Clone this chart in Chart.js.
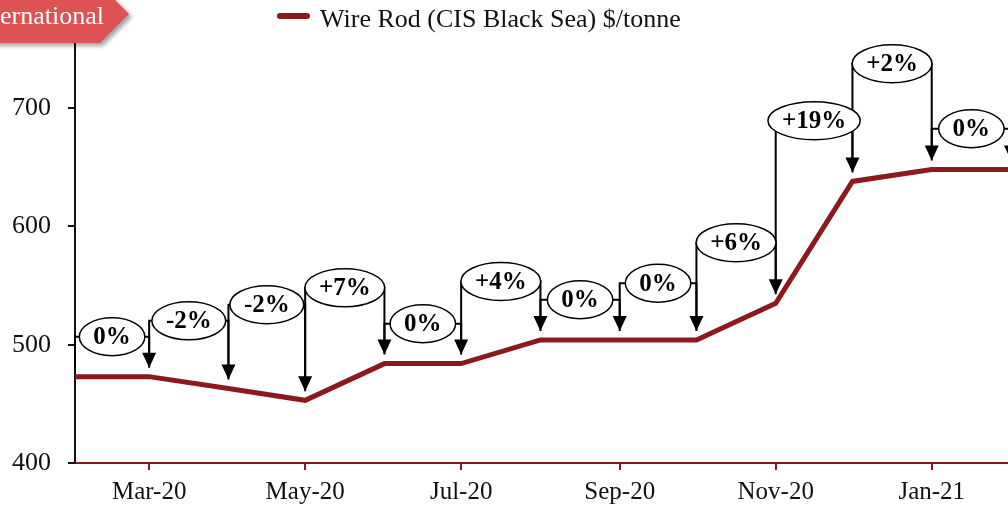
<!DOCTYPE html>
<html>
<head>
<meta charset="utf-8">
<title>Wire Rod (CIS Black Sea) $/tonne</title>
<script src="https://cdn.jsdelivr.net/npm/chart.js@4.4.1/dist/chart.umd.min.js"></script>
<style>
    html, body { margin: 0; padding: 0; overflow: hidden; background: #fff; }
    #wrap { width: 1040px; height: 506px; }
</style>
</head>
<body>
<div id="wrap"><canvas id="canvas_wire_rod" width="1040" height="506"></canvas></div>
<script>
const months = ['Feb-20', 'Mar-20', 'Apr-20', 'May-20', 'Jun-20', 'Jul-20', 'Aug-20',
    'Sep-20', 'Oct-20', 'Nov-20', 'Dec-20', 'Jan-21', 'Feb-21'];
const wire_rod = [473, 473, 463, 453, 484, 484, 504, 504, 504, 535, 638, 648, 648];
const changes = ['0%', '-2%', '-2%', '+7%', '0%', '+4%', '0%', '0%', '+6%', '+19%', '+2%', '0%'];
// height of each change bubble, in $/tonne
const bubble_levels = [506.7, 520.2, 533.8, 548.1, 517.7, 553.5, 538, 551.9, 586.2, 689.3, 737.5, 682.5];
const x_tick_months = ['Mar-20', 'May-20', 'Jul-20', 'Sep-20', 'Nov-20', 'Jan-21'];
const y_ticks = [400, 500, 600, 700];

const month_names = ['Jan', 'Feb', 'Mar', 'Apr', 'May', 'Jun', 'Jul', 'Aug', 'Sep', 'Oct', 'Nov', 'Dec'];
function month_day(label) {
    let parts = label.split('-');
    let t = Date.UTC(2000 + parseInt(parts[1]), month_names.indexOf(parts[0]), 1);
    return (t - Date.UTC(2020, 1, 1)) / 86400000;
}

const couleur_ligne = '#8B1A1F';
const serif = '"Liberation Serif", "DejaVu Serif", serif';

const banner_plugin = {
    id: 'banner',
    afterDraw(chart) {
        const ctx = chart.ctx;
        ctx.save();
        ctx.shadowColor = 'rgba(0,0,0,0.35)';
        ctx.shadowOffsetX = 3;
        ctx.shadowOffsetY = 3;
        ctx.shadowBlur = 4;
        ctx.beginPath();
        ctx.moveTo(-10, -15);
        ctx.lineTo(100, -15);
        ctx.lineTo(129, 14);
        ctx.lineTo(100, 43);
        ctx.lineTo(-10, 43);
        ctx.closePath();
        ctx.fillStyle = '#DD5353';
        ctx.fill();
        ctx.restore();
        ctx.save();
        ctx.fillStyle = '#fff';
        ctx.font = '26px ' + serif;
        ctx.textAlign = 'right';
        ctx.textBaseline = 'alphabetic';
        ctx.fillText('International', 104, 24);

        // legend
        ctx.strokeStyle = couleur_ligne;
        ctx.lineWidth = 6;
        ctx.lineCap = 'round';
        ctx.beginPath();
        ctx.moveTo(280, 16);
        ctx.lineTo(307, 16);
        ctx.stroke();
        ctx.fillStyle = '#111';
        ctx.textAlign = 'left';
        ctx.fillText(chart.data.datasets[0].label, 320, 27);
        ctx.restore();
    }
};

const bubbles_plugin = {
    id: 'bubbles',
    afterDatasetsDraw(chart) {
        const ctx = chart.ctx;
        const xs = chart.scales.x, ys = chart.scales.y;
        let items = [];
        ctx.save();
        ctx.strokeStyle = '#000';
        ctx.fillStyle = '#000';
        ctx.lineWidth = 2;
        for (let i = 0; i < changes.length; i++) {
            let x0 = xs.getPixelForValue(month_day(months[i]));
            let x1 = xs.getPixelForValue(month_day(months[i + 1]));
            let yb = ys.getPixelForValue(bubble_levels[i]);
            let y0 = ys.getPixelForValue(wire_rod[i]) - 9;
            let y1 = ys.getPixelForValue(wire_rod[i + 1]) - 9;
            ctx.beginPath();
            ctx.moveTo(x0, y0);
            ctx.lineTo(x0, yb);
            ctx.lineTo(x1, yb);
            ctx.lineTo(x1, y1 - 12);
            ctx.stroke();
            ctx.beginPath();
            ctx.moveTo(x1, y1);
            ctx.lineTo(x1 - 7, y1 - 15);
            ctx.lineTo(x1 + 7, y1 - 15);
            ctx.closePath();
            ctx.fill();
            items.push({ x: (x0 + x1) / 2, y: yb, text: changes[i] });
        }
        ctx.font = 'bold 25px ' + serif;
        ctx.textAlign = 'center';
        ctx.textBaseline = 'middle';
        ctx.lineWidth = 1.5;
        items.forEach(function (it) {
            let w = ctx.measureText(it.text).width;
            ctx.beginPath();
            ctx.ellipse(it.x, it.y, w / 2 + 14, 19, 0, 0, Math.PI * 2);
            ctx.fillStyle = '#fff';
            ctx.fill();
            ctx.stroke();
            ctx.fillStyle = '#000';
            ctx.fillText(it.text, it.x, it.y + 1);
        });
        ctx.restore();
    }
};

let chart_datas = {
    datasets: [
        {
            label: 'Wire Rod (CIS Black Sea) $/tonne',
            data: wire_rod.map(function (v, i) { return { x: month_day(months[i]), y: v }; }),
            borderColor: couleur_ligne,
            borderWidth: 5,
            pointRadius: 0,
            tension: 0,
            fill: false
        }
    ]
};

let options = {
    responsive: false,
    animation: false,
    devicePixelRatio: 1,
    layout: {
        padding: { left: 0, right: 29, top: 43, bottom: 0 }
    },
    plugins: {
        legend: { display: false },
        tooltip: { enabled: false }
    },
    scales: {
        x: {
            type: 'linear',
            min: 0,
            max: month_day('Feb-21'),
            afterBuildTicks: function (scale) {
                scale.ticks = x_tick_months.map(function (m) { return { value: month_day(m) }; });
            },
            afterFit: function (scale) { scale.height = 43; },
            ticks: {
                autoSkip: false,
                maxRotation: 0,
                padding: 7,
                color: '#111',
                font: { family: serif, size: 25 },
                callback: function (value, index) { return x_tick_months[index]; }
            },
            grid: {
                drawOnChartArea: false,
                tickLength: 7,
                lineWidth: 2,
                color: couleur_ligne
            },
            border: { color: couleur_ligne, width: 2 }
        },
        y: {
            min: 400,
            max: 755,
            afterBuildTicks: function (scale) {
                scale.ticks = y_ticks.map(function (v) { return { value: v }; });
            },
            afterFit: function (scale) { scale.width = 75; },
            ticks: {
                padding: 17,
                color: '#111',
                font: { family: serif, size: 26 }
            },
            grid: {
                drawOnChartArea: false,
                tickLength: 7,
                lineWidth: 2,
                color: '#111'
            },
            border: { color: '#111', width: 2 }
        }
    }
};

const graph = new Chart(document.getElementById('canvas_wire_rod'), {
    type: 'line',
    data: chart_datas,
    options: options,
    plugins: [bubbles_plugin, banner_plugin]
});
</script>
</body>
</html>
